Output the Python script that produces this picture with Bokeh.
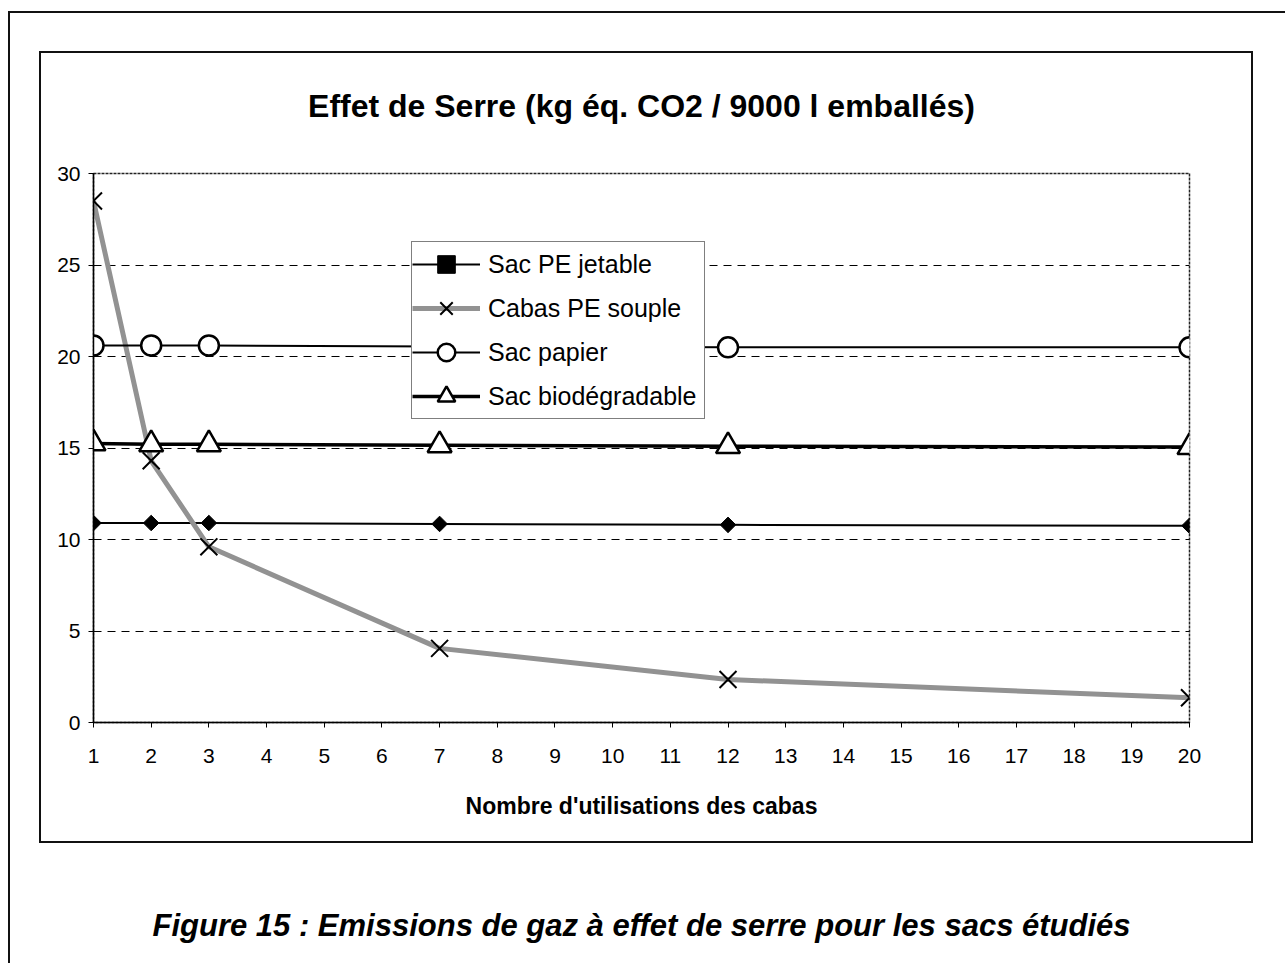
import math
from bokeh.plotting import figure
from bokeh.models import (Range1d, FixedTicker, Legend, LegendItem, LinearAxis)
from bokeh.embed import file_html
from bokeh.resources import INLINE

# ---- data ----
x_uses = [1, 2, 3, 7, 12, 20]
sac_pe_jetable = [10.9, 10.9, 10.9, 10.85, 10.8, 10.75]
cabas_pe_souple = [28.5, 14.3, 9.6, 4.05, 2.35, 1.35]
sac_papier = [20.6, 20.6, 20.6, 20.55, 20.5, 20.5]
sac_biodegradable = [15.25, 15.2, 15.2, 15.15, 15.1, 15.05]
x_ticks = list(range(1, 21))
y_ticks = [0, 5, 10, 15, 20, 25, 30]
series_names = ["Sac PE jetable", "Cabas PE souple", "Sac papier", "Sac biodégradable"]
title_text = "Effet de Serre (kg éq. CO2 / 9000 l emballés)"
xlabel_text = "Nombre d'utilisations des cabas"
caption_text = "Figure 15 : Emissions de gaz à effet de serre pour les sacs étudiés"

FONT = "Liberation Sans"

W, H = 1285, 963
FL, FR, FT, FB = 93, 1189, 173, 722   # frame edges on the canvas

# page frames drawn as CSS background lines behind the (transparent) border area
# (x, y, width, height) in pixels
frame_lines = [
    (8, 11, 2, 1200), (8, 11, 1400, 2),                 # outer page box
    (39, 51, 1214, 2), (39, 841, 1214, 2),              # chart area box
    (39, 51, 2, 792), (1251, 51, 2, 792),
]
bg_styles = {
    "background-color": "white",
    "background-image": ", ".join(["linear-gradient(#111111, #111111)"] * len(frame_lines)),
    "background-size": ", ".join(f"{w}px {h}px" for (_, _, w, h) in frame_lines),
    "background-position": ", ".join(f"{x}px {y}px" for (x, y, _, _) in frame_lines),
    "background-repeat": "no-repeat",
}

p = figure(width=W, height=H, output_backend="svg", toolbar_location=None,
           x_range=Range1d(1, 20), y_range=Range1d(0, 30),
           min_border_left=FL, min_border_right=W - FR, min_border_top=FT,
           min_border_bottom=H - FB, styles=bg_styles)
p.background_fill_color = "white"
p.border_fill_alpha = 0
p.outline_line_color = "#222222"
p.outline_line_width = 1.5
p.outline_line_dash = "3 1"

# title
p.title.text = title_text
p.title.text_font = FONT
p.title.text_font_style = "bold"
p.title.text_font_size = "32px"
p.title.text_color = "black"
p.title.align = "center"
p.title.standoff = 100

# axes
p.xaxis.ticker = FixedTicker(ticks=x_ticks)
p.yaxis.ticker = FixedTicker(ticks=y_ticks)
for ax in (p.xaxis, p.yaxis):
    ax.axis_line_color = "black"
    ax.axis_line_width = 1.5
    ax.major_tick_line_color = "black"
    ax.major_tick_in = 0
    ax.major_tick_out = 5
    ax.minor_tick_line_color = None
    ax.major_label_text_font = FONT
    ax.major_label_text_font_size = "21px"
    ax.major_label_text_color = "black"
p.xaxis.major_label_standoff = 21
p.yaxis.major_label_standoff = 8
p.xaxis.axis_label = xlabel_text
p.xaxis.axis_label_text_font = FONT
p.xaxis.axis_label_text_font_style = "bold"
p.xaxis.axis_label_text_font_size = "23px"
p.xaxis.axis_label_text_color = "black"
p.xaxis.axis_label_standoff = 27

# caption under the chart: label of a bare extra axis
cap = LinearAxis(ticker=FixedTicker(ticks=[]), axis_line_color=None,
                 major_tick_line_color=None, minor_tick_line_color=None,
                 major_label_text_alpha=0, major_tick_out=0, major_tick_in=0,
                 major_label_standoff=0,
                 axis_label=caption_text, axis_label_text_font=FONT,
                 axis_label_text_font_style="bold italic",
                 axis_label_text_font_size="31px",
                 axis_label_text_color="black", axis_label_standoff=86)
p.add_layout(cap, "below")

# grid
p.xgrid.grid_line_color = None
p.ygrid.ticker = FixedTicker(ticks=[5, 10, 15, 20, 25])
p.ygrid.grid_line_color = "black"
p.ygrid.grid_line_dash = "8 6"
p.ygrid.grid_line_width = 1

# series
r1l = p.line(x_uses, sac_pe_jetable, line_color="black", line_width=2)
r1m = p.scatter(x_uses, sac_pe_jetable, marker="square", size=11,
                angle=math.pi / 4, fill_color="black", line_color="black")
r2l = p.line(x_uses, cabas_pe_souple, line_color="#929292", line_width=5)
r2m = p.scatter(x_uses, cabas_pe_souple, marker="x", size=24,
                line_color="black", line_width=2)
r3l = p.line(x_uses, sac_papier, line_color="black", line_width=2)
r3m = p.scatter(x_uses, sac_papier, marker="circle", size=20,
                fill_color="white", line_color="black", line_width=2.5)
r4l = p.line(x_uses, sac_biodegradable, line_color="black", line_width=3.5)
r4m = p.scatter(x_uses, sac_biodegradable, marker="triangle", size=24,
                fill_color="white", line_color="black", line_width=2.5)

legend = Legend(items=[
    LegendItem(label=series_names[0], renderers=[r1l, r1m]),
    LegendItem(label=series_names[1], renderers=[r2l, r2m]),
    LegendItem(label=series_names[2], renderers=[r3l, r3m]),
    LegendItem(label=series_names[3], renderers=[r4l, r4m]),
], location=(411 - FL, FB - 419))
legend.label_text_font = FONT
legend.label_text_font_size = "25px"
legend.label_text_color = "black"
legend.glyph_width = 68
legend.glyph_height = 44
legend.label_height = 44
legend.label_width = 216
legend.label_standoff = 8
legend.spacing = 0
legend.padding = 0
legend.margin = 0
legend.border_line_color = "black"
legend.border_line_width = 1.5
legend.background_fill_alpha = 1
p.add_layout(legend, "center")

open("out.html", "w").write(file_html(p, INLINE))
